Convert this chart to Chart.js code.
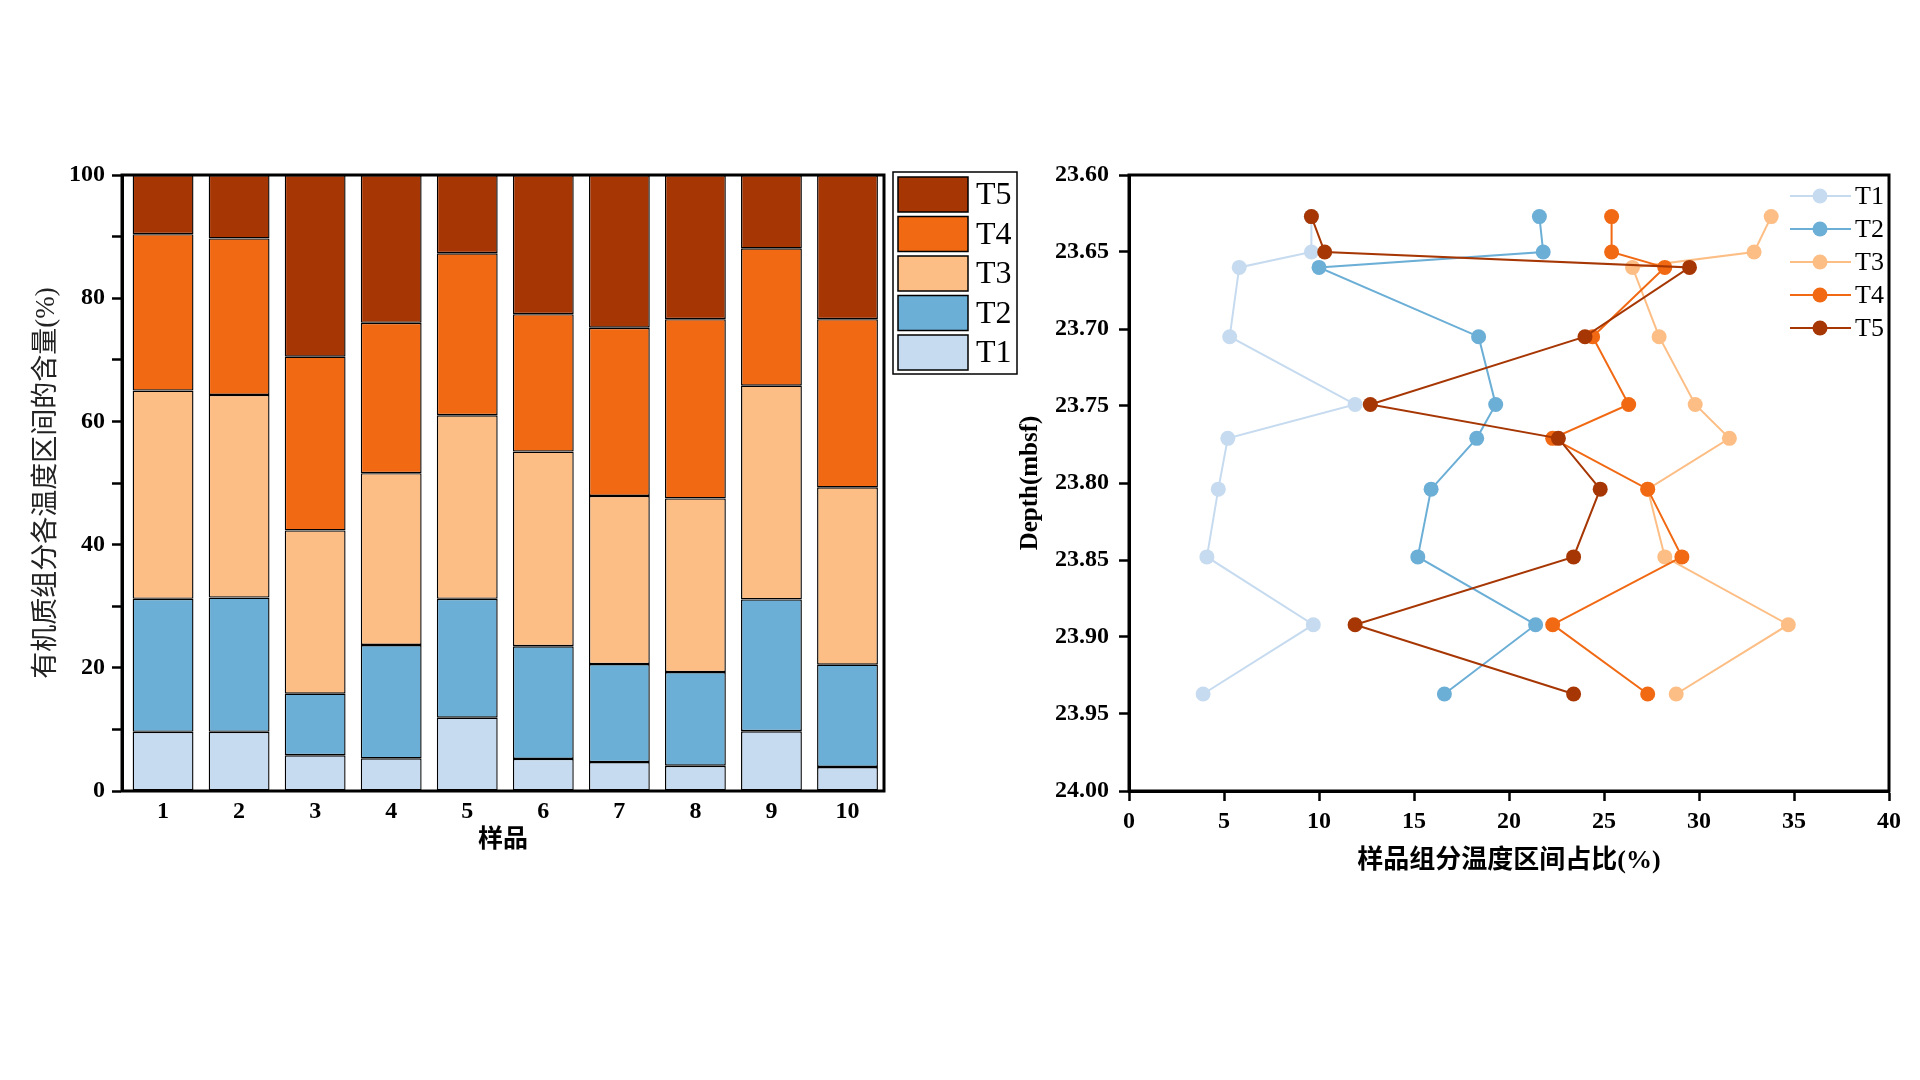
<!DOCTYPE html>
<html>
<head>
<meta charset="utf-8">
<script src="https://cdn.jsdelivr.net/npm/chart.js@4"></script>
<style>
  html, body { margin: 0; padding: 0; background: #fff; }
  body { width: 1920px; height: 1080px; position: relative; overflow: hidden; }
  .box { position: absolute; top: 0; height: 1080px; }
</style>
</head>
<body>
<div class="box" style="left:0;width:1030px"><canvas id="bars"></canvas></div>
<div class="box" style="left:1000px;width:920px"><canvas id="lines"></canvas></div>
<script>
const samples = ["1", "2", "3", "4", "5", "6", "7", "8", "9", "10"]
const seriesNames = ["T1", "T2", "T3", "T4", "T5"]
const colors = ["#c6dbef", "#6baed6", "#fdbe85", "#f16913", "#a63603"]

// share of each temperature interval per sample (%)
const t1 = [9.6, 9.6, 5.8, 5.3, 11.9, 5.2, 4.7, 4.1, 9.7, 3.9]
const t2 = [21.6, 21.8, 10.0, 18.4, 19.3, 18.3, 15.9, 15.2, 21.4, 16.6]
const t3 = [33.8, 32.9, 26.5, 27.9, 29.8, 31.6, 27.3, 28.2, 34.7, 28.8]
const t4 = [25.4, 25.4, 28.2, 24.4, 26.3, 22.3, 27.3, 29.1, 22.3, 27.3]
const t5 = [9.6, 10.3, 29.5, 24.0, 12.7, 22.6, 24.8, 23.4, 11.9, 23.4]

// sample depth (mbsf)
const depths = [23.627, 23.65, 23.66, 23.705, 23.749, 23.771, 23.804, 23.848, 23.892, 23.937]

const allSeries = [t1, t2, t3, t4, t5]

const serif = "'Liberation Serif', 'Times New Roman', 'Noto Sans CJK SC', serif"
const tickFont = { family: serif, size: 24, weight: "bold" }

// draws a full frame round the plot area
const frame = {
  id: "frame",
  afterDraw(chart) {
    const { ctx, chartArea: a } = chart
    ctx.save()
    ctx.strokeStyle = "#000"
    ctx.lineWidth = 3
    ctx.strokeRect(a.left, a.top, a.right - a.left, a.bottom - a.top)
    ctx.restore()
  },
}

const barLegend = {
  id: "barLegend",
  afterDraw(chart) {
    const ctx = chart.ctx
    ctx.save()
    ctx.strokeStyle = "#000"
    ctx.lineWidth = 1.5
    ctx.strokeRect(893, 172, 124, 202)
    ctx.font = "32px " + serif
    ctx.textBaseline = "middle"
    for (let i = 0; i < 5; i++) {
      const k = 4 - i
      const y = 177 + i * 39.5
      ctx.fillStyle = colors[k]
      ctx.fillRect(898, y, 70, 35)
      ctx.strokeRect(898, y, 70, 35)
      ctx.fillStyle = "#000"
      ctx.fillText(seriesNames[k], 976, y + 19)
    }
    ctx.restore()
  },
}

const lineLegend = {
  id: "lineLegend",
  afterDraw(chart) {
    const ctx = chart.ctx
    ctx.save()
    ctx.font = "26px " + serif
    ctx.textBaseline = "middle"
    for (let i = 0; i < 5; i++) {
      const y = 196 + i * 33
      ctx.strokeStyle = colors[i]
      ctx.lineWidth = 2
      ctx.beginPath()
      ctx.moveTo(790, y)
      ctx.lineTo(851, y)
      ctx.stroke()
      ctx.fillStyle = colors[i]
      ctx.beginPath()
      ctx.arc(820, y, 7.5, 0, Math.PI * 2)
      ctx.fill()
      ctx.fillStyle = "#000"
      ctx.fillText(seriesNames[i], 855, y + 1)
    }
    ctx.restore()
  },
}

new Chart(document.getElementById("bars"), {
  type: "bar",
  data: {
    datasets: allSeries.map((values, i) => ({
      label: seriesNames[i],
      data: values.map((v, j) => ({ x: j + 1, y: v })),
      backgroundColor: colors[i],
      borderColor: "#000",
      borderWidth: 1.4,
      borderSkipped: false,
      barPercentage: 0.8,
      categoryPercentage: 1,
    })),
  },
  options: {
    responsive: true,
    maintainAspectRatio: false,
    animation: false,
    layout: { padding: { left: 0, right: 146, top: 175, bottom: 0 } },
    plugins: { legend: { display: false }, tooltip: { enabled: false } },
    scales: {
      x: {
        type: "linear",
        stacked: true,
        offset: false,
        min: 0.46,
        max: 10.48,
        grid: { display: false, drawTicks: false, tickLength: 0 },
        border: { display: false },
        ticks: {
          stepSize: 1,
          includeBounds: false,
          autoSkip: false,
          maxRotation: 0,
          font: tickFont,
          color: "#000",
          padding: 6,
          callback: (v) => (Number.isInteger(v) ? samples[v - 1] : ""),
        },
        title: {
          display: true,
          text: "样品",
          color: "#000",
          font: { family: serif, size: 25, weight: "bold" },
          padding: { top: 0, bottom: 224 },
        },
        afterFit(scale) { scale.height = 289 },
      },
      y: {
        stacked: true,
        min: 0,
        max: 100,
        ticks: {
          stepSize: 10,
          font: tickFont,
          color: "#000",
          padding: 7,
          callback: (v) => (v % 20 === 0 ? v : ""),
        },
        grid: {
          drawOnChartArea: false,
          tickLength: 10,
          tickColor: "#000",
          tickWidth: 2.5,
        },
        border: { color: "#000", width: 3 },
        title: {
          display: true,
          text: "有机质组分各温度区间的含量(%)",
          color: "#222",
          font: { family: serif, size: 27 },
          padding: { top: 31, bottom: 0 },
        },
        afterFit(scale) { scale.width = 122 },
      },
    },
  },
  plugins: [frame, barLegend],
})

new Chart(document.getElementById("lines"), {
  type: "scatter",
  data: {
    datasets: allSeries.map((values, i) => ({
      label: seriesNames[i],
      data: values.map((v, j) => ({ x: v, y: depths[j] })),
      showLine: true,
      borderColor: colors[i],
      backgroundColor: colors[i],
      borderWidth: 2,
      pointRadius: 7.5,
      pointBorderWidth: 0,
      order: 4 - i,
    })),
  },
  options: {
    responsive: true,
    maintainAspectRatio: false,
    animation: false,
    layout: { padding: { left: 0, right: 31, top: 175, bottom: 0 } },
    plugins: { legend: { display: false }, tooltip: { enabled: false } },
    scales: {
      x: {
        min: 0,
        max: 40,
        ticks: { stepSize: 5, font: tickFont, color: "#000", padding: 6 },
        grid: {
          drawOnChartArea: false,
          tickLength: 10,
          tickColor: "#000",
          tickWidth: 2.5,
        },
        border: { color: "#000", width: 3 },
        title: {
          display: true,
          text: "样品组分温度区间占比(%)",
          color: "#000",
          font: { family: serif, size: 26, weight: "bold" },
          padding: { top: 0, bottom: 203 },
        },
        afterFit(scale) { scale.height = 289 },
      },
      y: {
        min: 23.6,
        max: 24.0,
        reverse: true,
        ticks: {
          stepSize: 0.05,
          font: tickFont,
          color: "#000",
          padding: 10,
          callback: (v) => Number(v).toFixed(2),
        },
        grid: {
          drawOnChartArea: false,
          tickLength: 10,
          tickColor: "#000",
          tickWidth: 2.5,
        },
        border: { color: "#000", width: 3 },
        title: {
          display: true,
          text: "Depth(mbsf)",
          color: "#000",
          font: { family: serif, size: 25, weight: "bold" },
          padding: { top: 16, bottom: 0 },
        },
        afterFit(scale) { scale.width = 129 },
      },
    },
  },
  plugins: [frame, lineLegend],
})
</script>
</body>
</html>
